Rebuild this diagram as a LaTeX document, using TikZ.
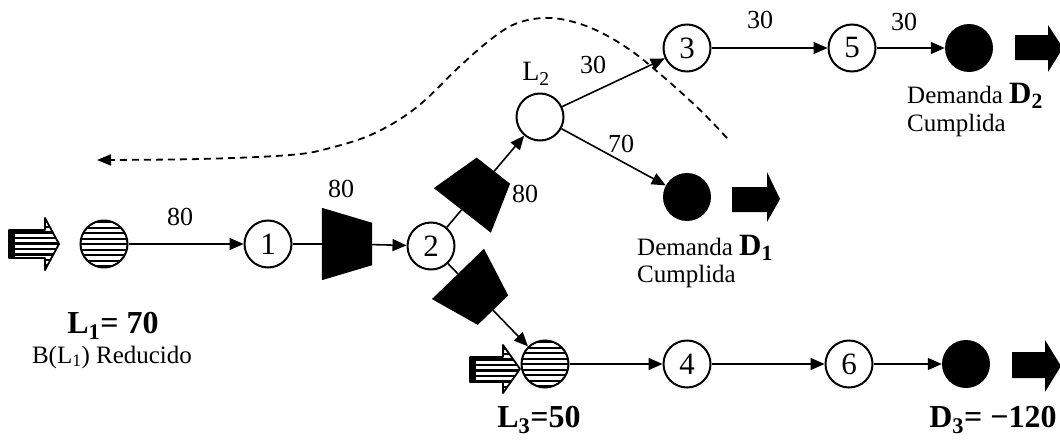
\documentclass[tikz,border=0pt]{standalone}
\usepackage{fontspec}
\setmainfont{Liberation Serif}
\usetikzlibrary{arrows.meta,calc}
\newcommand\compfill[1]{\fill (#1.south west) -- (#1.south east) -- ($(#1.north east)!15pt!(#1.north west)$) -- ($(#1.north west)!15pt!(#1.north east)$) -- cycle;}
\begin{document}
\begin{tikzpicture}[x=1pt,y=-1pt,
  nd/.style={circle,draw,line width=2pt,minimum size=47pt,inner sep=0pt,font=\fontsize{31}{31}\selectfont},
  sink/.style={circle,fill=black,minimum size=48pt,inner sep=0pt},
  src/.style={circle,draw,line width=2pt,minimum size=47pt,inner sep=0pt,
    path picture={\foreach \k in {-4,...,4}
      \draw[line width=2pt] ([yshift=\k*5.5pt]path picture bounding box.west) -- ([yshift=\k*5.5pt]path picture bounding box.east);}},
  comp/.style={rectangle,minimum width=72pt,minimum height=50pt,inner sep=0pt},
  flow/.style={line width=1.6pt,-{Triangle[length=14pt,width=12pt]}},
  link/.style={line width=1.6pt},
  lab/.style={font=\fontsize{26}{26}\selectfont,inner sep=0pt},
  txt/.style={font=\fontsize{25}{25}\selectfont,inner sep=0pt},
  big/.style={font=\bfseries\fontsize{32}{32}\selectfont,inner sep=0pt},
  dd/.style={line width=1.8pt,dash pattern=on 7pt off 5pt},
]
\useasboundingbox (0,0) rectangle (1060,439);

% striped source arrows
\begin{scope}
  \clip (9,230) -- (45,230) -- (45,218) -- (59,244) -- (45,270) -- (45,258) -- (9,258) -- cycle;
  \foreach \yy in {216,221.5,...,272} \draw[line width=2.2pt] (5,\yy) -- (62,\yy);
\end{scope}
\draw[line width=1.8pt,line join=round] (9,230) -- (45,230) -- (45,218) -- (59,244) -- (45,270) -- (45,258) -- (9,258) -- cycle;
\fill (9,230) rectangle (15,258);

\begin{scope}
  \clip (470,357) -- (503,357) -- (503,345) -- (520,369) -- (503,393) -- (503,382) -- (470,382) -- cycle;
  \foreach \yy in {343,348.5,...,396} \draw[line width=2.2pt] (466,\yy) -- (524,\yy);
\end{scope}
\draw[line width=1.8pt,line join=round] (470,357) -- (503,357) -- (503,345) -- (520,369) -- (503,393) -- (503,382) -- (470,382) -- cycle;
\fill (470,357) rectangle (476,382);

% solid sink arrows
\fill (732,187) -- (767,187) -- (767,172) -- (780,199) -- (767,222) -- (767,212) -- (732,212) -- cycle;
\fill (1015,35) -- (1048,35) -- (1048,25) -- (1063,48) -- (1048,72) -- (1048,60) -- (1015,60) -- cycle;
\fill (1012,352) -- (1045,352) -- (1045,340) -- (1061,366) -- (1045,392) -- (1045,378) -- (1012,378) -- cycle;

% nodes
\node[src] (L1) at (104,244) {};
\node[nd] (n1) at (268,244) {1};
\node[comp,rotate=-90] (c1) at (347,244) {};
\node[nd] (n2) at (431,246) {2};
\node[nd] (L2) at (540,117) {};
\node[comp,rotate=-38] (c2) at ($(n2)!0.43!(L2)$) {};
\node[src] (L3) at (545,364) {};
\node[comp,rotate=-136] (c3) at ($(n2)!0.39!(L3)$) {};
\node[nd] (n3) at (687,48) {3};
\node[nd] (n5) at (852,48) {5};
\node[sink] (D2) at (969,48) {};
\node[sink] (D1) at (687,197) {};
\node[nd] (n4) at (687,364) {4};
\node[nd] (n6) at (849,364) {6};
\node[sink] (D3) at (966,364) {};
\compfill{c1}
\compfill{c2}
\compfill{c3}

% connectors
\draw[flow] (L1) -- (n1);
\draw[link] (n1) -- (c1);
\draw[flow] (c1) -- (n2);
\draw[link] (n2) -- (c2);
\draw[flow] (c2) -- (L2);
\draw[link] (n2) -- (c3);
\draw[flow] (c3) -- (L3);
\draw[flow] (L2) -- (n3);
\draw[flow] (L2) -- (D1);
\draw[flow] (n3) -- (n5);
\draw[flow] (n5) -- (D2);
\draw[flow] (L3) -- (n4);
\draw[flow] (n4) -- (n6);
\draw[flow] (n6) -- (D3);

% dashed curve
\coordinate (dA) at (727,138);
\coordinate (dB) at (97,160);
\draw[dd,-{Triangle[length=14pt,width=11pt]}] plot[smooth,tension=0.6] coordinates {(dA) (700,110) (667,80) (633,52) (600,32) (570,21) (543,18) (515,24) (490,40) (459,67) (417,107) (375,133) (330,148) (290,155) (200,159) (dB)};

% labels
\node[lab] (t80a) at (180,217) {80};
\node[lab] (t80b) at (341,189) {80};
\node[lab] (t80c) at (525,194) {80};
\node[font=\fontsize{28}{28}\selectfont,inner sep=0pt] (tL2) at (536,74) {L\textsubscript{2}};
\node[lab] (t30a) at (593,65) {30};
\node[lab] (t70) at (621,144) {70};
\node[lab] (t30b) at (760,20) {30};
\node[lab] (t30c) at (904,22) {30};

\node[txt,anchor=base west] (tD1) at (637,255) {Demanda {\bfseries\fontsize{31}{31}\selectfont D\textsubscript{1}}};
\node[txt,anchor=base west] (tC1) at (637,282) {Cumplida};
\node[txt,anchor=base west] (tD2) at (907,103) {Demanda {\bfseries\fontsize{31}{31}\selectfont D\textsubscript{2}}};
\node[txt,anchor=base west] (tC2) at (907,131) {Cumplida};

\node[big,anchor=base] (tL1) at (113,333) {L\textsubscript{1}= 70};
\node[txt,anchor=base] (tB) at (112,363) {B(L\textsubscript{1}) Reducido};
\node[big,anchor=base] (tL3) at (539,427) {L\textsubscript{3}=50};
\node[big,anchor=base] (tD3) at (993,427) {D\textsubscript{3}= −120};
\end{tikzpicture}
\end{document}
